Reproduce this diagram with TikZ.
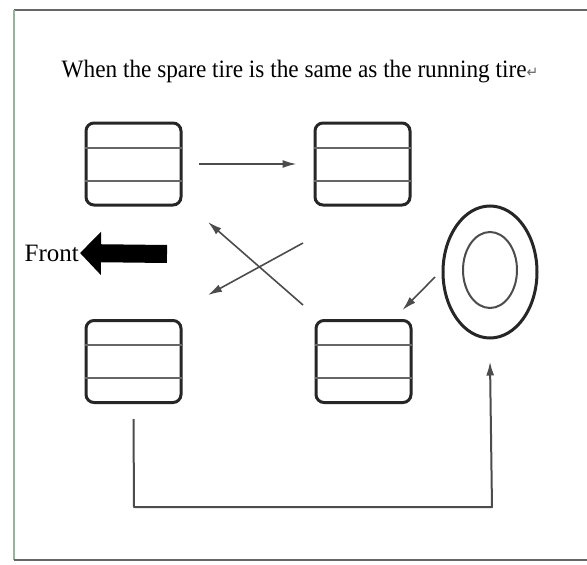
\documentclass[tikz,border=0pt]{standalone}
\usepackage{fontspec}
\setmainfont{Liberation Serif}
\newfontfamily\symfont{DejaVu Sans}
\usetikzlibrary{arrows.meta,shapes.geometric}
\definecolor{framegreen}{RGB}{150,180,155}
\tikzset{
  tire/.style={draw=black!85, line width=3pt, rounded corners=8pt, minimum width=95pt, minimum height=82pt, inner sep=0pt},
  tread/.style={draw=black!60, line width=2pt},
  move/.style={draw=black!70, line width=1.6pt, -{Latex[length=14pt,width=8pt]}},
  label/.style={font=\fontsize{25}{27}\selectfont, inner sep=0pt}
}
\begin{document}
\begin{tikzpicture}[x=1pt, y=-1pt]
  \useasboundingbox (0,0) rectangle (587,565);
  \fill[white] (0,0) rectangle (587,565);

  % page frame
  \draw[black!60, line width=2pt] (14,10) -- (587,10);
  \draw[framegreen, line width=2.5pt] (14,10) -- (14,560);
  \draw[black!60, line width=2pt] (14,560) -- (587,560);

  % title
  \node[label, xscale=0.93] (title) at (300,72) {When the spare tire is the same as the running tire{\symfont\fontsize{15}{15}\selectfont\color{black!60}↵}};

  % four running tires
  \node[tire] (tl) at (133.5,164) {};
  \node[tire] (tr) at (362.5,164) {};
  \node[tire] (bl) at (133.5,361.5) {};
  \node[tire] (br) at (363.5,361.5) {};
  \foreach \t in {tl,tr,bl,br} {
    \draw[tread] ([yshift=16.5pt]\t.west) -- ([yshift=16.5pt]\t.east);
    \draw[tread] ([yshift=-16.5pt]\t.west) -- ([yshift=-16.5pt]\t.east);
  }

  % spare tire
  \node[draw=black!85, line width=3pt, ellipse, minimum width=94pt, minimum height=132pt] (spare) at (490,272) {};
  \node[draw=black!70, line width=2pt, ellipse, minimum width=54pt, minimum height=76pt] (hub) at (490,270) {};

  % front marker
  \node[label, anchor=east] (front) at (79,253) {Front};
  \coordinate (fronttail) at (167,254);
  \draw[black, line width=18pt, -{Triangle[length=21pt,width=42pt]}] (fronttail) -- ([xshift=1pt]front.east);

  % rotation arrows
  \coordinate (xa) at (303,305);
  \coordinate (xb) at (208,222);
  \coordinate (xc) at (303,243);
  \coordinate (xd) at (208,295);
  \coordinate (sp) at (435,277);
  \coordinate (loopa) at (134,507);
  \coordinate (loopb) at (492,507);
  \draw[move] ([xshift=16pt]tl.east) -- ([xshift=-17pt]tr.west);
  \draw[move] (xa) -- (xb);
  \draw[move] (xc) -- (xd);
  \draw[move] (sp) -- ([xshift=-10pt,yshift=9pt]br.north east);
  \draw[move, line width=2pt, line join=round] ([yshift=-15pt]bl.south) -- (loopa) -- (loopb) -- ([yshift=-22pt]spare.south);
\end{tikzpicture}
\end{document}
